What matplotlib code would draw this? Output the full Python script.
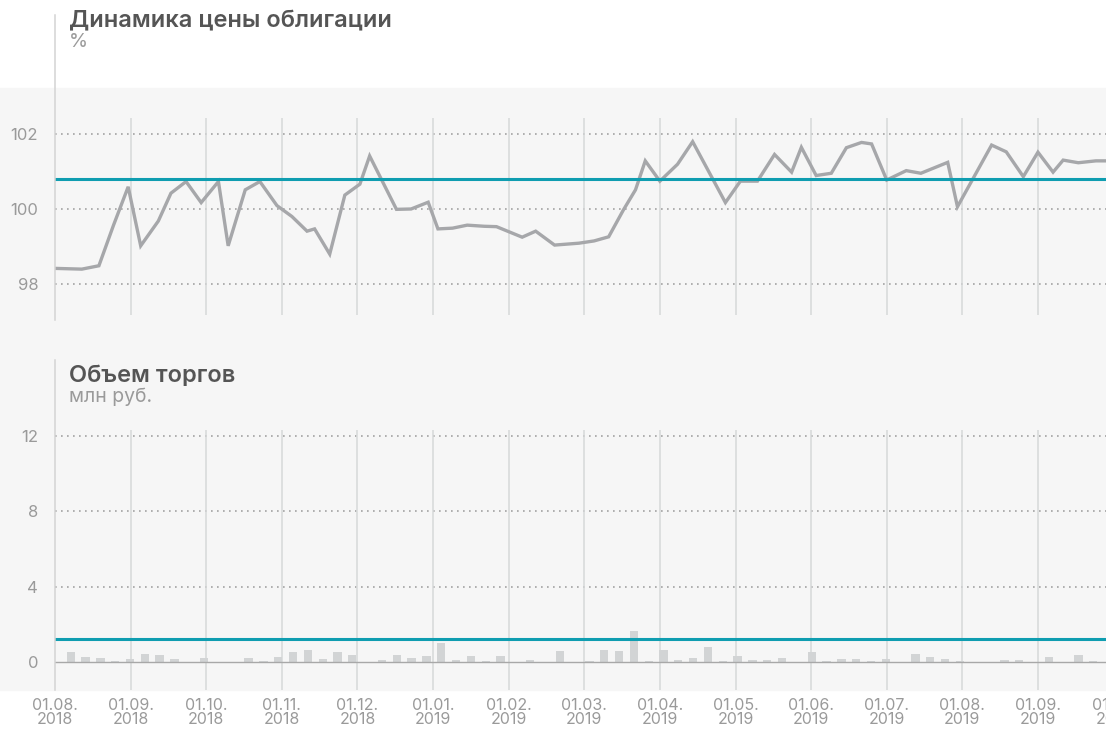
from __future__ import annotations

import matplotlib

matplotlib.use("Agg")
import matplotlib.pyplot as plt
import pandas as pd
from matplotlib.lines import Line2D
from matplotlib.patches import Rectangle


PRICE_DATES = [
    "2018-08-01", "2018-08-12", "2018-08-19", "2018-08-25", "2018-08-31",
    "2018-09-05", "2018-09-12", "2018-09-17", "2018-09-23", "2018-09-29",
    "2018-10-06", "2018-10-10", "2018-10-17", "2018-10-23", "2018-10-30",
    "2018-11-05", "2018-11-11", "2018-11-14", "2018-11-20", "2018-11-26",
    "2018-12-02", "2018-12-06", "2018-12-17", "2018-12-23", "2018-12-30",
    "2019-01-03", "2019-01-09", "2019-01-15", "2019-01-22", "2019-01-27",
    "2019-02-06", "2019-02-11", "2019-02-18", "2019-02-27",
    "2019-03-05", "2019-03-11", "2019-03-17", "2019-03-22", "2019-03-26",
    "2019-04-01", "2019-04-08", "2019-04-14", "2019-04-27",
    "2019-05-03", "2019-05-10", "2019-05-17", "2019-05-24", "2019-05-28",
    "2019-06-03", "2019-06-09", "2019-06-15", "2019-06-21", "2019-06-25",
    "2019-07-01", "2019-07-09", "2019-07-15", "2019-07-26", "2019-07-30",
    "2019-08-13", "2019-08-19", "2019-08-26",
    "2019-09-01", "2019-09-07", "2019-09-11", "2019-09-17", "2019-09-24", "2019-09-28",
]
PRICE_VALUES = [
    98.42, 98.40, 98.49, 99.57, 100.59,
    99.02, 99.68, 100.42, 100.73, 100.17,
    100.73, 99.02, 100.51, 100.73, 100.09,
    99.80, 99.41, 99.47, 98.80, 100.37,
    100.66, 101.41, 99.99, 100.00, 100.18,
    99.47, 99.49, 99.57, 99.54, 99.53,
    99.25, 99.41, 99.04, 99.09,
    99.15, 99.26, 99.97, 100.51, 101.28,
    100.74, 101.19, 101.79, 100.17,
    100.74, 100.74, 101.45, 100.98, 101.64,
    100.89, 100.95, 101.63, 101.77, 101.73,
    100.77, 101.02, 100.95, 101.24, 100.06,
    101.70, 101.52, 100.86,
    101.51, 100.98, 101.30, 101.23, 101.28, 101.28,
]
PRICE_REFERENCE = 100.81

VOLUME_VALUES = [
    0.51, 0.28, 0.21, 0.04, 0.16, 0.44, 0.39, 0.16, 0.02, 0.21,
    0.00, 0.00, 0.21, 0.07, 0.27, 0.51, 0.65, 0.16, 0.55, 0.39,
    0.00, 0.12, 0.39, 0.21, 0.34, 0.99, 0.12, 0.34, 0.07, 0.34,
    0.00, 0.12, 0.00, 0.60, 0.00, 0.07, 0.65, 0.60, 1.66, 0.07,
    0.65, 0.12, 0.21, 0.80, 0.07, 0.34, 0.11, 0.11, 0.21, 0.02,
    0.51, 0.07, 0.16, 0.16, 0.07, 0.16, 0.00, 0.44, 0.27, 0.16,
    0.03, 0.00, 0.00, 0.11, 0.11, 0.00, 0.27, 0.00, 0.39, 0.03,
]
VOLUME_REFERENCE = 1.22

MONTH_LABELS = [
    "01.08.\n2018", "01.09.\n2018", "01.10.\n2018", "01.11.\n2018", "01.12.\n2018",
    "01.01.\n2019", "01.02.\n2019", "01.03.\n2019", "01.04.\n2019", "01.05.\n2019",
    "01.06.\n2019", "01.07.\n2019", "01.08.\n2019", "01.09.\n2019", "01.10.\n2019",
]

PRICE_TICKS = [98, 100, 102]
VOLUME_TICKS = [0, 4, 8, 12]

LINE_GRAY = "#a6a7aa"
BAR_GRAY = "#d2d4d5"
TEAL = "#0f9db0"
GRID_V = "#d6d8d9"
DOT = "#a3a3a3"
LABEL = "#9a9a9a"
TITLE = "#555555"

W, H = 1106, 735


def _month_position(dates: list[str]) -> pd.Series:
    # every month gets the same width on this axis
    d = pd.to_datetime(pd.Series(dates))
    return (d.dt.year - 2018) * 12 + d.dt.month - 8 + (d.dt.day - 1) / d.dt.days_in_month


def _px_axes(fig, left, top, right, bottom):
    return fig.add_axes([left / W, 1 - bottom / H, (right - left) / W, (bottom - top) / H])


def _style(ax, ticks):
    ax.set_facecolor("none")
    for spine in ax.spines.values():
        spine.set_visible(False)
    ax.set_xlim(0, 13.9)
    ax.set_xticks(range(1, 14))
    ax.set_xticklabels([])
    ax.tick_params(axis="x", length=0)
    ax.grid(axis="x", color=GRID_V, linewidth=1.1)
    ax.set_yticks(ticks)
    ax.set_yticklabels([str(t) for t in ticks])
    ax.tick_params(axis="y", length=0, pad=12, labelsize=12, labelcolor=LABEL)
    for t in ticks:
        if t == 0:
            continue
        ax.axhline(t, color=DOT, linewidth=1.2, linestyle=(0, (1, 2.6)), zorder=1)


def main():
    plt.rcParams["font.family"] = ["Inter", "DejaVu Sans"]
    fig = plt.figure(figsize=(W / 100, H / 100), dpi=100)
    fig.patches.append(Rectangle((0, 1 - 690 / H), 1, (690 - 88) / H,
                                 transform=fig.transFigure, color="#f6f6f6", zorder=-10))

    # price panel
    ax1 = _px_axes(fig, 55, 118, W, 315)
    _style(ax1, PRICE_TICKS)
    ax1.set_ylim(97.18, 102.42)
    ax1.plot(_month_position(PRICE_DATES), PRICE_VALUES, color=LINE_GRAY, linewidth=2.4,
             solid_joinstyle="miter", zorder=3)
    ax1.axhline(PRICE_REFERENCE, color=TEAL, linewidth=2.2, zorder=4)

    # volume panel
    ax2 = _px_axes(fig, 55, 430, W, 690)
    _style(ax2, VOLUME_TICKS)
    ax2.set_ylim(-1.49, 12.32)
    bar_x = [0.208 + i * 0.196 for i in range(len(VOLUME_VALUES))]
    ax2.bar(bar_x, VOLUME_VALUES, width=0.11, color=BAR_GRAY, zorder=2)
    ax2.axhline(0, color="#a8a8a8", linewidth=1.0, zorder=3)
    ax2.axhline(VOLUME_REFERENCE, color=TEAL, linewidth=2.2, zorder=4)

    # last label is cut by the right edge, as in the source
    for i, label in enumerate(MONTH_LABELS):
        ax2.text(i, -0.03, label, transform=ax2.get_xaxis_transform(), ha="center", va="top",
                 fontsize=11.5, color=LABEL, linespacing=0.92, clip_on=False)

    # left axis rules
    x0 = 55 / W
    fig.add_artist(Line2D([x0, x0], [1 - 15 / H, 1 - 320 / H], color="#d3d3d3", linewidth=1.1))
    fig.add_artist(Line2D([x0, x0], [1 - 360 / H, 1 - 690 / H], color="#d3d3d3", linewidth=1.1))

    fig.text(69 / W, 1 - 27 / H, "Динамика цены облигации", fontsize=17, fontweight="semibold",
             color=TITLE, va="baseline")
    fig.text(69 / W, 1 - 47 / H, "%", fontsize=14, color=LABEL, va="baseline")
    fig.text(69 / W, 1 - 382 / H, "Объем торгов", fontsize=17, fontweight="semibold",
             color=TITLE, va="baseline")
    fig.text(69 / W, 1 - 402 / H, "млн руб.", fontsize=14, color=LABEL, va="baseline")

    fig.savefig("out.png", dpi=100)
    plt.close(fig)


if __name__ == "__main__":
    main()
